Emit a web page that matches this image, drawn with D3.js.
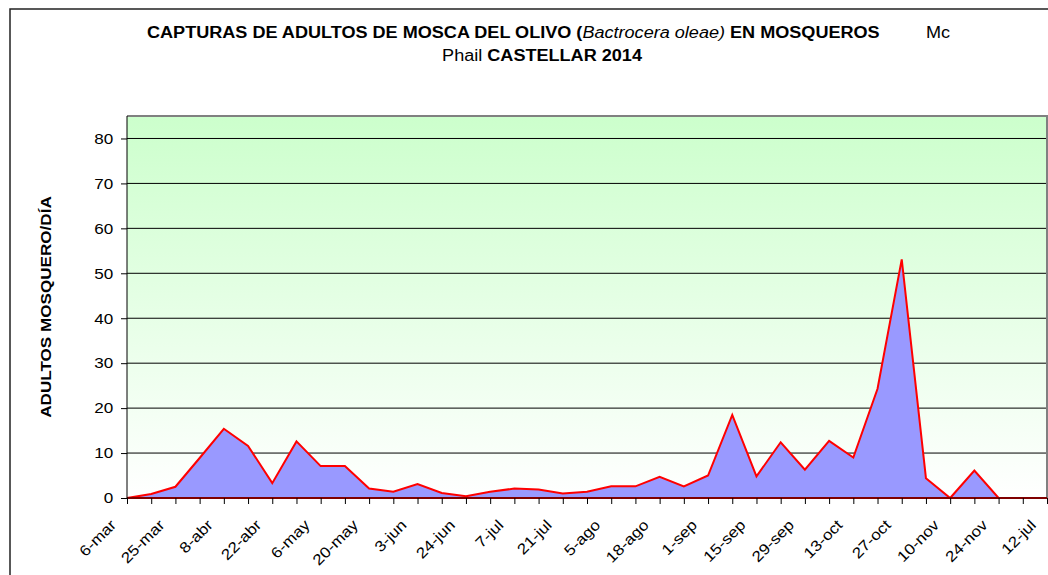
<!DOCTYPE html>
<html>
<head>
<meta charset="utf-8">
<script src="https://cdn.jsdelivr.net/npm/d3@7"></script>
<style>
  body { margin: 0; background: #fff; }
  text { font-family: "Liberation Sans", Arial, sans-serif; }
</style>
</head>
<body>
<div id="chart"></div>
<script>
// fechas de muestreo (solo se rotulan una de cada dos)
var fechas = ["6-mar", "18-mar", "25-mar", "1-abr", "8-abr", "15-abr", "22-abr", "29-abr",
  "6-may", "13-may", "20-may", "27-may", "3-jun", "17-jun", "24-jun", "1-jul",
  "7-jul", "14-jul", "21-jul", "28-jul", "5-ago", "11-ago", "18-ago", "25-ago",
  "1-sep", "8-sep", "15-sep", "22-sep", "29-sep", "6-oct", "13-oct", "20-oct",
  "27-oct", "3-nov", "10-nov", "17-nov", "24-nov", "1-dic", "12-jul"];

// adultos por mosquero y día
var capturas = [0, 0.9, 2.5, 8.9, 15.4, 11.6, 3.3, 12.6,
  7.1, 7.1, 2.1, 1.4, 3.1, 1.1, 0.4, 1.4,
  2.1, 1.9, 1.0, 1.4, 2.6, 2.6, 4.7, 2.6,
  5.0, 18.5, 4.8, 12.4, 6.3, 12.7, 9.0, 24.3,
  53.1, 4.4, 0, 6.1, 0, 0, 0];

var yTicks = [0, 10, 20, 30, 40, 50, 60, 70, 80];

var width = 1048, height = 575;
var plotLeft = 127, plotRight = 1047, plotTop = 116, plotBottom = 498;
var stretch = 1.14; // el texto original sale algo ensanchado

var svg = d3.select("#chart").append("svg")
  .attr("width", width)
  .attr("height", height);

// marco exterior
svg.append("rect")
  .attr("x", 10).attr("y", 9)
  .attr("width", 1060).attr("height", 600)
  .style("fill", "none")
  .style("stroke", "#222")
  .style("stroke-width", 1.5);

var grad = svg.append("defs").append("linearGradient")
  .attr("id", "fondo")
  .attr("x1", 0).attr("y1", 0).attr("x2", 0).attr("y2", 1);
grad.append("stop").attr("offset", "0%").attr("stop-color", "#ccffcc");
grad.append("stop").attr("offset", "100%").attr("stop-color", "#ffffff");

var x = d3.scalePoint()
  .domain(fechas)
  .range([plotLeft, plotRight]);

var y = d3.scaleLinear()
  .domain([0, 85])
  .range([plotBottom, plotTop]);

svg.append("rect")
  .attr("x", plotLeft).attr("y", plotTop)
  .attr("width", plotRight - plotLeft).attr("height", plotBottom - plotTop)
  .style("fill", "url(#fondo)");

// lineas de division
svg.append("g")
  .selectAll("line")
  .data(yTicks.filter(function(d) { return d > 0; }))
  .enter().append("line")
    .attr("x1", plotLeft).attr("x2", plotRight)
    .attr("y1", function(d) { return y(d); })
    .attr("y2", function(d) { return y(d); })
    .style("stroke", "#000")
    .style("stroke-width", 1);

// borde del area de trazado
svg.append("path")
  .attr("d", "M" + plotLeft + "," + plotTop + "H" + plotRight + "V" + plotBottom)
  .style("fill", "none")
  .style("stroke", "#808080")
  .style("stroke-width", 2);

var area = d3.area()
  .x(function(d, i) { return x(fechas[i]); })
  .y0(y(0))
  .y1(function(d) { return y(d); });

svg.append("path")
  .datum(capturas)
  .attr("d", function(d) { return area(d) + "Z"; })
  .style("fill", "#9999ff")
  .style("stroke", "#ff0000")
  .style("stroke-width", 2)
  .style("stroke-linejoin", "miter");

// eje y
var yAxis = svg.append("g")
  .attr("transform", "translate(" + plotLeft + ",0)")
  .call(d3.axisLeft(y).tickValues(yTicks).tickSize(6).tickPadding(6));
yAxis.select(".domain").remove();
yAxis.append("line")
  .attr("x1", 0).attr("x2", 0)
  .attr("y1", plotTop).attr("y2", plotBottom)
  .style("stroke", "#000");
yAxis.selectAll(".tick line").style("stroke", "#000");
yAxis.selectAll(".tick text")
  .attr("transform", "scale(" + stretch + ",1)")
  .style("font-size", "15px")
  .style("fill", "#000")
  .attr("font-family", null);

// eje x
var xAxis = svg.append("g")
  .attr("transform", "translate(0," + plotBottom + ")")
  .call(d3.axisBottom(x).tickSize(6).tickFormat(""));
xAxis.select(".domain").remove();
xAxis.append("line")
  .attr("x1", plotLeft).attr("x2", plotRight)
  .style("stroke", "#000");
xAxis.selectAll(".tick line").style("stroke", "#000");

svg.append("g")
  .selectAll("text")
  .data(fechas.filter(function(d, i) { return i % 2 === 0; }))
  .enter().append("text")
    .attr("transform", function(d) {
      return "translate(" + (x(d) - 10) + "," + (plotBottom + 28) + ") rotate(-45) scale(" + stretch + ",1)";
    })
    .style("text-anchor", "end")
    .style("font-size", "15px")
    .text(function(d) { return d; });

// titulo del eje
svg.append("text")
  .attr("transform", "translate(51,307) rotate(-90) scale(" + stretch + ",1)")
  .style("text-anchor", "middle")
  .style("font-size", "15px")
  .style("font-weight", "bold")
  .text("ADULTOS MOSQUERO/DÍA");

// titulo
var t1 = svg.append("text")
  .attr("transform", "translate(147,38) scale(1.13,1)")
  .style("font-size", "16px");
t1.append("tspan").style("font-weight", "bold").text("CAPTURAS DE ADULTOS DE MOSCA DEL OLIVO (");
t1.append("tspan").style("font-style", "italic").text("Bactrocera oleae)");
t1.append("tspan").style("font-weight", "bold").text(" EN MOSQUEROS");

svg.append("text")
  .attr("transform", "translate(926,38) scale(1.13,1)")
  .style("font-size", "16px")
  .text("Mc");

var t2 = svg.append("text")
  .attr("transform", "translate(542,61) scale(1.13,1)")
  .style("text-anchor", "middle")
  .style("font-size", "16px");
t2.append("tspan").text("Phail ");
t2.append("tspan").style("font-weight", "bold").text("CASTELLAR 2014");
</script>
</body>
</html>
